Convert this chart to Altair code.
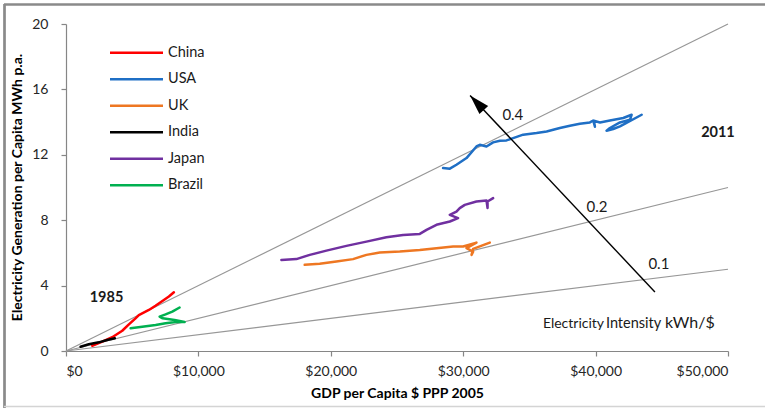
import altair as alt
import pandas as pd

FONT = "Lato"

# GDP per capita ($ PPP 2005) against electricity generation per capita (MWh p.a.), 1985 -> 2011
china_gdp = [1980, 2740, 3490, 4250, 4750, 5250, 5500, 6260, 6760, 7390, 7770, 8150]
china_elec = [0.32, 0.57, 0.84, 1.24, 1.63, 2.00, 2.20, 2.51, 2.77, 3.12, 3.33, 3.59]

usa_gdp = [28480, 28990, 29490, 30250, 31000, 31250, 31760, 32260, 32770, 33270, 33770,
           34530, 35540, 36300, 37300, 38060, 38810, 39570, 39820, 39950, 39870, 40330,
           41080, 42090, 42720, 42600, 41840, 41080, 40830, 41330, 41840, 43480]
usa_elec = [11.19, 11.15, 11.39, 11.80, 12.51, 12.61, 12.51, 12.76, 12.86, 12.88, 13.02,
            13.23, 13.33, 13.43, 13.64, 13.78, 13.90, 13.98, 14.10, 13.72, 14.08, 13.98,
            14.10, 14.25, 14.45, 14.15, 13.98, 13.64, 13.47, 13.58, 13.74, 14.45]

uk_gdp = [18030, 19160, 20420, 21680, 22690, 23700, 25210, 26720, 27980, 29240, 29990,
          31000, 30250, 30750, 30630, 30750, 32010]
uk_elec = [5.27, 5.33, 5.47, 5.62, 5.88, 6.02, 6.08, 6.18, 6.29, 6.39, 6.39,
           6.63, 6.29, 6.08, 5.88, 6.25, 6.63]

india_gdp = [1100, 1720, 2480, 3110, 3690]
india_elec = [0.26, 0.41, 0.53, 0.67, 0.78]

japan_gdp = [16270, 17400, 18410, 19670, 21180, 22690, 24200, 25460, 26720, 27230, 27980,
             28990, 29610, 28990, 29490, 29740, 30120, 31000, 31760, 31840, 31840, 32260]
japan_elec = [5.57, 5.62, 5.88, 6.14, 6.43, 6.69, 6.96, 7.10, 7.16, 7.41, 7.72,
              7.92, 8.13, 8.33, 8.53, 8.74, 8.94, 9.14, 9.20, 8.74, 9.14, 9.35]

brazil_gdp = [4880, 5760, 6770, 7520, 8280, 8960, 8200, 7300, 7070, 7520, 8030, 8580]
brazil_elec = [1.39, 1.49, 1.59, 1.70, 1.78, 1.78, 1.90, 2.00, 2.10, 2.24, 2.41, 2.66]

names = ["China", "USA", "UK", "India", "Japan", "Brazil"]
colors = ["#FF0000", "#1F6FC5", "#EE7722", "#000000", "#7030A0", "#00B050"]

# electricity intensity guide lines (kWh per $), drawn from the origin
intensities = [0.4, 0.2, 0.1]
intensity_labels = ["0.4", "0.2", "0.1"]
guide_gdp = [0, 50000]

# arrow pointing towards higher intensity
arrow_gdp = [44480, 30520]
arrow_elec = [3.61, 15.63]

series = [
    ("China", china_gdp, china_elec),
    ("USA", usa_gdp, usa_elec),
    ("UK", uk_gdp, uk_elec),
    ("India", india_gdp, india_elec),
    ("Japan", japan_gdp, japan_elec),
    ("Brazil", brazil_gdp, brazil_elec),
]
rows = []
for name, xs, ys in series:
    for i, (gx, ey) in enumerate(zip(xs, ys)):
        rows.append({"series": name, "gdp": gx, "elec": ey, "idx": i})
df = pd.DataFrame(rows)

guide_rows = []
for k in intensities:
    for g in guide_gdp:
        guide_rows.append({"k": k, "gdp": g, "elec": k * g / 1000})
guide_df = pd.DataFrame(guide_rows)

x_scale = alt.Scale(domain=[0, 50000], nice=False)
y_scale = alt.Scale(domain=[0, 20], nice=False)

x_enc = alt.X(
    "gdp:Q", scale=x_scale,
    axis=alt.Axis(values=[0, 10000, 20000, 30000, 40000, 50000], format="$,.0f",
                  title="GDP per Capita $ PPP 2005", titleX=331, titleY=42,
                  titleBaseline="middle", titleAlign="center"),
)
y_enc = alt.Y(
    "elec:Q", scale=y_scale,
    axis=alt.Axis(values=[0, 4, 8, 12, 16, 20],
                  title="Electricity Generation per Capita MWh p.a.",
                  titleX=-49, titleY=163, titleBaseline="middle", titleAlign="center",
                  titleAngle=-90),
)

guides = alt.Chart(guide_df).mark_line(color="#979797", strokeWidth=1.2).encode(
    x=x_enc, y=y_enc, detail="k:N"
)

lines = alt.Chart(df).mark_line(strokeWidth=2.5, strokeCap="round", strokeJoin="round").encode(
    x="gdp:Q", y="elec:Q",
    color=alt.Color("series:N", scale=alt.Scale(domain=names, range=colors), legend=None),
    order=alt.Order("idx:Q"),
)

arrow_df = pd.DataFrame({"gdp": arrow_gdp, "elec": arrow_elec, "idx": [0, 1]})
arrow_line = alt.Chart(arrow_df).mark_line(color="black", strokeWidth=1.4).encode(
    x="gdp:Q", y="elec:Q", order="idx:Q"
)
arrow_head = alt.Chart(arrow_df.iloc[[1]]).mark_point(
    shape="M0,0L0.6,2L-0.6,2Z", size=400, filled=True, color="black",
    opacity=1, angle=316.7, strokeWidth=0,
).encode(x="gdp:Q", y="elec:Q")

# intensity labels beside the guide lines
ilab_df = pd.DataFrame({"label": intensity_labels,
                        "gdp": [33750, 40100, 44780], "elec": [14.45, 8.82, 5.33]})
ilab = alt.Chart(ilab_df).mark_text(font=FONT, fontSize=15, color="#1a1a1a").encode(
    x="gdp:Q", y="elec:Q", text="label:N"
)

years_df = pd.DataFrame({"label": ["1985", "2011"], "gdp": [3060, 49240], "elec": [3.25, 13.35]})
years = alt.Chart(years_df).mark_text(font=FONT, fontSize=14.5, fontWeight="bold",
                                      color="#1a1a1a").encode(
    x="gdp:Q", y="elec:Q", text="label:N"
)

note_df = pd.DataFrame({"label": ["Electricity", "Intensity", "kWh/$"],
                        "gdp": [36020, 40780, 45240], "elec": [1.41, 1.41, 1.41],
                        "fs": [14, 14.5, 16]})
note = alt.Chart(note_df).mark_text(font=FONT, align="left", baseline="alphabetic",
                                    color="#1a1a1a").encode(
    x="gdp:Q", y="elec:Q", text="label:N", size=alt.Size("fs:Q", scale=None)
)

# legend drawn at the upper left of the plot
legend_layers = []
for i, (name, col) in enumerate(zip(names, colors)):
    one = alt.Chart(pd.DataFrame({"series": [name]}))
    ly = 28.7 + 26.5 * i
    legend_layers.append(one.mark_rule(strokeWidth=2.5).encode(
        x=alt.value(44), x2=alt.value(97), y=alt.value(ly), color=alt.value(col)))
    legend_layers.append(one.mark_text(font=FONT, fontSize=14.5, align="left",
                                       baseline="middle", color="#1a1a1a").encode(
        x=alt.value(102), y=alt.value(ly), text="series:N"))

# outer frame
frame_src = alt.Chart(pd.DataFrame({"f": [0]}))
frame_top = frame_src.mark_rule(color="#8a8a8a", strokeWidth=2.7).encode(
    x=alt.value(-62), x2=alt.value(699), y=alt.value(-19.5))
frame_left = frame_src.mark_rule(color="#8a8a8a", strokeWidth=2.7).encode(
    x=alt.value(-61.5), y=alt.value(-20), y2=alt.value(384))
frame_bottom = frame_src.mark_rule(color="#d4d4d4", strokeWidth=1.5).encode(
    x=alt.value(-62), x2=alt.value(699), y=alt.value(382.5))

chart = alt.layer(
    guides, lines, arrow_line, arrow_head, ilab, years, note,
    *legend_layers, frame_top, frame_left, frame_bottom,
).properties(
    width=662, height=327,
    padding={"left": 66, "top": 24, "right": 37, "bottom": 57},
    autosize=alt.AutoSizeParams(type="none"),
    background="white",
).configure_view(
    strokeWidth=0
).configure_axis(
    grid=False, domainColor="#868686", domainWidth=1.2, tickColor="#868686",
    tickSize=5, tickWidth=1.2, labelFont=FONT, labelFontSize=14, labelColor="#262626",
    titleFont=FONT, titleFontSize=14, titleFontWeight="bold", titleColor="#000000",
).configure_axisY(
    labelPadding=13
).configure_axisX(
    labelPadding=8
)

chart.save("out.html", embed_options={"renderer": "svg", "actions": False})
